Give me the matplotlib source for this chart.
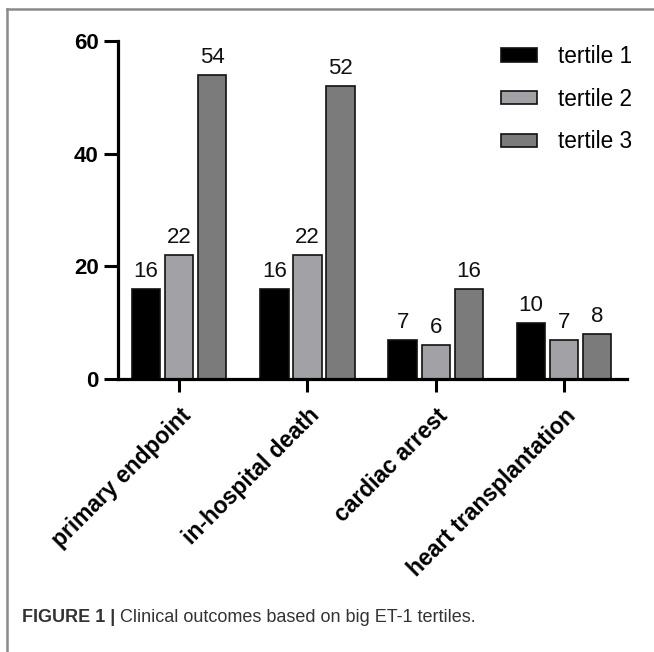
import numpy as np
import matplotlib
matplotlib.use('Agg')
import matplotlib.pyplot as plt

# datos
categorias = ['primary endpoint', 'in-hospital death', 'cardiac arrest', 'heart transplantation']
tertil_1 = [16, 16, 7, 10]
tertil_2 = [22, 22, 6, 7]
tertil_3 = [54, 52, 16, 8]
series = ['tertile 1', 'tertile 2', 'tertile 3']
y_ticks = [0, 20, 40, 60]

colores = ['#000000', '#a2a2a6', '#7b7b7b']

plt.rcParams['font.family'] = ['Liberation Sans', 'DejaVu Sans']

fig = plt.figure(figsize=(6.54, 6.52), dpi=100)
ax = fig.add_axes([118 / 654, 1 - 379 / 652, (627 - 118) / 654, (379 - 41) / 652])

x = np.arange(len(categorias))
ancho = 0.222
desp = 0.258
for i, (vals, nombre) in enumerate(zip([tertil_1, tertil_2, tertil_3], series)):
    barras = ax.bar(x + (i - 1) * desp, vals, ancho, color=colores[i],
                    edgecolor='#111111', linewidth=1.2, label=nombre, zorder=2)
    for b, v in zip(barras, vals):
        ax.text(b.get_x() + b.get_width() / 2, v + 1.2, str(v), ha='center',
                va='bottom', fontsize=16, color='#111111')

ax.set_xlim(-0.476, 3.49)
ax.set_ylim(0, 60)
ax.set_yticks(y_ticks)
ax.set_yticklabels([str(t) for t in y_ticks], fontsize=16, fontweight='bold')
ax.set_xticks(x)
ax.set_xticklabels(categorias, rotation=45, ha='right', rotation_mode='anchor',
                   fontsize=16.5, fontweight='bold')
ax.tick_params(axis='y', length=10, width=2.2, pad=4)
ax.tick_params(axis='x', length=9, width=2.2, pad=9)

for lado in ['top', 'right']:
    ax.spines[lado].set_visible(False)
for lado in ['left', 'bottom']:
    ax.spines[lado].set_linewidth(2.3)
ax.spines['bottom'].set_zorder(3)

ax.legend(loc='upper left', bbox_to_anchor=(501 / 654, 1 - 45 / 652),
          bbox_transform=fig.transFigure, frameon=False, fontsize=16.3,
          handlelength=1.6, handleheight=0.53, handletextpad=0.93,
          labelspacing=0.87, borderpad=0, borderaxespad=0)

# marco gris de la figura (izquierda y arriba)
fig.add_artist(plt.Line2D([7 / 654, 7 / 654], [0, 1 - 9 / 652], transform=fig.transFigure,
                          color='#8a8a8a', linewidth=1.8))
fig.add_artist(plt.Line2D([7 / 654, 1], [1 - 9 / 652, 1 - 9 / 652], transform=fig.transFigure,
                          color='#8a8a8a', linewidth=1.8))

# pie de figura
t = fig.text(22 / 654, 1 - 618 / 652, 'FIGURE 1 | ', fontsize=13, fontweight='bold',
             color='#333333', va='center')
fig.canvas.draw()
bb = t.get_window_extent()
fig.text(bb.x1 / 654, 1 - 618 / 652, 'Clinical outcomes based on big ET-1 tertiles.',
         fontsize=13, color='#333333', va='center')

fig.savefig('out.png', dpi=100)
